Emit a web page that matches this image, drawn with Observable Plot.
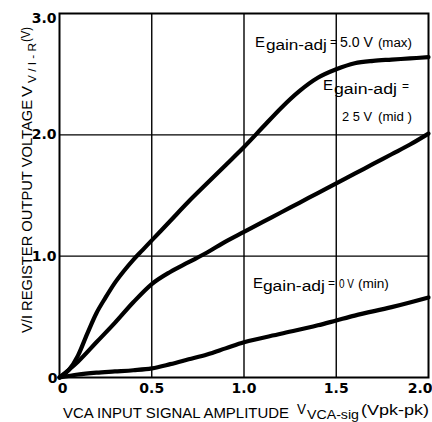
<!DOCTYPE html>
<html><head><meta charset="utf-8">
<script src="https://cdn.jsdelivr.net/npm/d3@7"></script>
<script src="https://cdn.jsdelivr.net/npm/@observablehq/plot@0.6"></script>
<style>
html,body{margin:0;padding:0;background:#fff;}
</style>
</head><body><div id="chart"></div>
<script>
// ---- data ----
const maxX = [0, 0.05, 0.1, 0.15, 0.2, 0.25, 0.3, 0.35, 0.4, 0.45, 0.5, 0.6, 0.7, 0.8, 0.9, 1.0, 1.1, 1.2, 1.3, 1.4, 1.5, 1.6, 1.7, 1.8, 1.9, 2.0];
const maxY = [0, 0.06, 0.18, 0.36, 0.53, 0.66, 0.78, 0.88, 0.97, 1.05, 1.13, 1.29, 1.45, 1.60, 1.75, 1.90, 2.06, 2.22, 2.36, 2.47, 2.54, 2.59, 2.61, 2.62, 2.63, 2.64];
const midX = [0, 0.1, 0.2, 0.3, 0.4, 0.5, 0.6, 0.7, 0.8, 0.9, 1.0, 1.1, 1.2, 1.3, 1.4, 1.5, 1.6, 1.7, 1.8, 1.9, 2.0];
const midY = [0, 0.13, 0.29, 0.45, 0.62, 0.77, 0.87, 0.95, 1.03, 1.12, 1.20, 1.28, 1.36, 1.44, 1.52, 1.60, 1.68, 1.76, 1.84, 1.92, 2.01];
const minX = [0, 0.1, 0.2, 0.3, 0.4, 0.5, 0.6, 0.7, 0.8, 0.9, 1.0, 1.2, 1.4, 1.5, 1.6, 1.8, 2.0];
const minY = [0, 0.025, 0.04, 0.05, 0.06, 0.075, 0.11, 0.15, 0.19, 0.24, 0.29, 0.36, 0.43, 0.47, 0.51, 0.58, 0.66];
const seriesNames = ["max", "mid", "min"];

const xTicks = [0, 0.5, 1.0, 1.5, 2.0];
const xTickLabels = ["0", "0.5", "1.0", "1.5", "2.0"];
const yTicks = [0, 1, 2, 3];
const yTickLabels = ["0", "1.0", "2.0", "3.0"];
const xGrid = [0.5, 1.0, 1.5];
const yGrid = [1, 2];

const xTitle = ["VCA INPUT SIGNAL AMPLITUDE", "V", "VCA-sig", "(Vpk-pk)"];
const yTitle = ["V/I REGISTER OUTPUT VOLTAGE", "V", "V / I - R", "(V)"];

// annotations: anchor in data coordinates + text pieces
const annotations = [
  {x: 1.062, y: 2.72, pieces: ["E", "gain-adj", "=", "5.0 V", "(max)"]},
  {x: 1.431, y: 2.366, pieces: ["E", "gain-adj", "="]},
  {x: 1.534, y: 2.11, pieces: ["2 5 V", "(mid )"]},
  {x: 1.051, y: 0.733, pieces: ["E", "gain-adj", "=", "0 V", "(min)"]}
];
// piece layout (dx, dy, font-size, textLength) per annotation
const pieceStyle = [
  [[0,0,15,10],[11,3,14,61],[75,-1,13,7],[85,0,14,33],[123,0,12,34]],
  [[0,0,15,10],[11,4,14,63],[79,0,13,7]],
  [[0,0,13,30],[36,0,12,34]],
  [[0,0,15,10],[10,3,14,62],[75,-1,13,7],[86,0,13,15],[105,0,12,31]]
];

const rows = [];
[[maxX, maxY], [midX, midY], [minX, minY]].forEach(([xs, ys], k) => {
  xs.forEach((x, i) => rows.push({series: seriesNames[k], x, y: ys[i]}));
});

const FONT = "'Liberation Sans', Arial, Helvetica, sans-serif";
const TICKFONT = "'DejaVu Sans', sans-serif";
const tickOpts = {tickSize: 0, label: null, fontSize: 14, fontWeight: "bold", fontFamily: TICKFONT};

const plot = Plot.plot({
  width: 432, height: 422,
  marginLeft: 59, marginRight: 4, marginTop: 13, marginBottom: 45,
  x: {domain: [0, 2]},
  y: {domain: [0, 3]},
  style: {fontFamily: FONT, background: "white", color: "black"},
  marks: [
    Plot.gridX(xGrid, {stroke: "black", strokeOpacity: 1, strokeWidth: 1.4}),
    Plot.gridY(yGrid, {stroke: "black", strokeOpacity: 1, strokeWidth: 1.4}),
    Plot.frame({stroke: "black", strokeWidth: 2}),
    Plot.axisX(xTicks.slice(0, 1), {...tickOpts, tickPadding: 6, dx: 3,
      tickFormat: d => xTickLabels[xTicks.indexOf(d)]}),
    Plot.axisX(xTicks.slice(1, 4), {...tickOpts, tickPadding: 6,
      tickFormat: d => xTickLabels[xTicks.indexOf(d)]}),
    Plot.axisX(xTicks.slice(4), {...tickOpts, tickPadding: 6, textAnchor: "end", dx: 4,
      tickFormat: d => xTickLabels[xTicks.indexOf(d)]}),
    Plot.axisY(yTicks.slice(1, 3), {...tickOpts, tickPadding: 3,
      tickFormat: d => yTickLabels[yTicks.indexOf(d)]}),
    Plot.axisY(yTicks.slice(3), {...tickOpts, tickPadding: 3, dy: 5,
      tickFormat: d => yTickLabels[yTicks.indexOf(d)]}),
    Plot.axisY(yTicks.slice(0, 1), {...tickOpts, tickPadding: 2, dy: 1,
      tickFormat: d => yTickLabels[yTicks.indexOf(d)]}),
    Plot.line(rows, {x: "x", y: "y", z: "series", stroke: "black", strokeWidth: 4.2,
      curve: "monotone-x", strokeLinejoin: "round", strokeLinecap: "round"})
  ]
});
document.getElementById("chart").appendChild(plot);

const sx = plot.scale("x"), sy = plot.scale("y");
const svg = d3.select(plot);

// annotations
const ag = svg.append("g").attr("font-family", FONT).attr("fill", "black").attr("text-anchor", "start");
annotations.forEach((a, k) => {
  const x0 = sx.apply(a.x), y0 = sy.apply(a.y);
  a.pieces.forEach((t, j) => {
    const [dx, dy, fs, tl] = pieceStyle[k][j];
    ag.append("text")
      .attr("x", x0 + dx).attr("y", y0 + dy)
      .attr("font-size", fs).attr("text-anchor", "start")
      .attr("textLength", tl).attr("lengthAdjust", "spacingAndGlyphs")
      .text(t);
  });
});

// x axis title
const xt = svg.append("g").attr("font-family", FONT).attr("fill", "black").attr("text-anchor", "start");
const xBase = sy.apply(0) + 41;
[[xTitle[0], 63, 0, 15, 226], [xTitle[1], 297, -4, 14, 9], [xTitle[2], 307, 1, 13, 52], [xTitle[3], 361, -3, 15, 68]]
  .forEach(([t, x, dy, fs, tl]) => {
    xt.append("text").attr("x", x).attr("y", xBase + dy).attr("font-size", fs).attr("text-anchor", "start")
      .attr("textLength", tl).attr("lengthAdjust", "spacingAndGlyphs").text(t);
  });

// y axis title (rotated)
const yt = svg.append("g").attr("font-family", FONT).attr("fill", "black").attr("text-anchor", "start")
  .attr("transform", `translate(32,${sy.apply(0) - 44}) rotate(-90)`);
[[yTitle[0], 0, 0, 15, 233], [yTitle[1], 236, 0, 14, 11], [yTitle[2], 250, 4, 11, 40], [yTitle[3], 291, -2, 13, 15]]
  .forEach(([t, x, dy, fs, tl]) => {
    yt.append("text").attr("x", x).attr("y", dy).attr("font-size", fs).attr("text-anchor", "start")
      .attr("textLength", tl).attr("lengthAdjust", "spacingAndGlyphs").text(t);
  });
</script>
</body></html>
